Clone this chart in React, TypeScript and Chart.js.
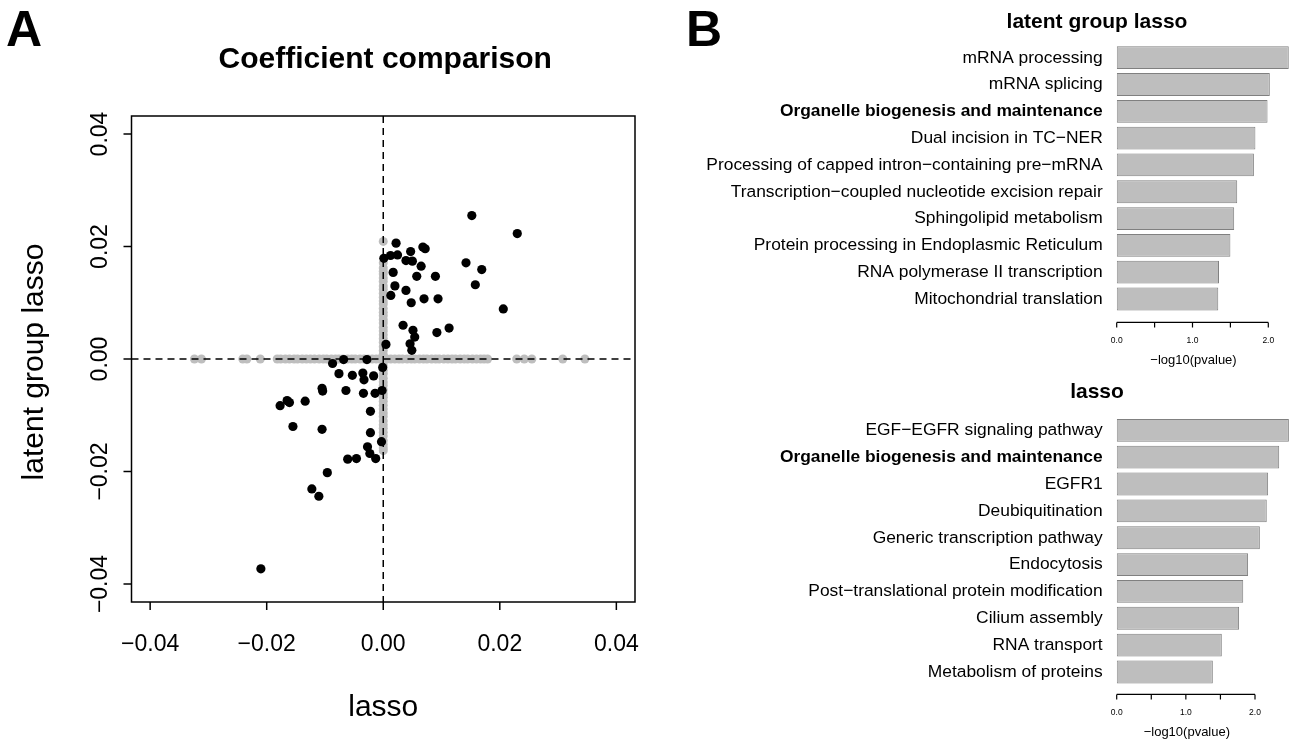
import React, { useEffect, useRef } from "react";
import { Chart, registerables } from "chart.js";
Chart.register(...registerables);

const FONT = '"Liberation Sans", Arial, Helvetica, sans-serif';

// Panel A: genes selected by both methods (lasso, latent group lasso)
const lassoCoef = [
  0.0152, 0.023, 0.0022, 0.0047, 0.0068, 0.0072, 0.0001, 0.00125, 0.00245, 0.0039,
  0.005, 0.0065, 0.0142, 0.0169, 0.0017, 0.00575, 0.00895, 0.0158, 0.002, 0.0039,
  0.0013, 0.0048, 0.007, 0.0094, 0.0206, 0.0034, 0.0051, 0.0113, 0.0092, 0.0054,
  0.0046, 0.0049, 0.00046, -0.0068, -0.0028, -0.0087, -0.0001, -0.0076, -0.0053, -0.0035,
  -0.0033, -0.00165, -0.0105, -0.0104, -0.0064, -0.0034, -0.0014, -0.0002, -0.0177, -0.0165,
  -0.0161, -0.0134, -0.0022, -0.0155, -0.0105, -0.0022, -0.0003, -0.0027, -0.0023, -0.0013,
  -0.0061, -0.0046, -0.0096, -0.01225, -0.01105, -0.021,
];
const latentCoef = [
  0.0255, 0.0223, 0.0206, 0.0191, 0.0199, 0.0196, 0.0179, 0.0184, 0.0185, 0.0175,
  0.0174, 0.0165, 0.0171, 0.0159, 0.0154, 0.0147, 0.0147, 0.0132, 0.013, 0.0122,
  0.0113, 0.01, 0.0107, 0.0107, 0.0089, 0.006, 0.0051, 0.0055, 0.0047, 0.0039,
  0.0027, 0.00155, 0.0026, -0.0001, -0.0001, -0.0008, -0.0015, -0.0026, -0.0029, -0.0025,
  -0.0037, -0.003, -0.0052, -0.0057, -0.0056, -0.0061, -0.0061, -0.0056, -0.0083, -0.0074,
  -0.00775, -0.0075, -0.0093, -0.012, -0.0125, -0.0131, -0.0147, -0.0156, -0.0168, -0.0177,
  -0.0178, -0.0177, -0.0202, -0.0231, -0.0244, -0.0373,
];
// genes selected by one method only (other coefficient is zero)
const lassoOnly = [
  -0.0324, -0.0312, -0.0241, -0.0234, -0.0211, -0.0182, -0.0176, -0.0168, -0.0161, -0.0153,
  -0.0147, -0.0139, -0.0132, -0.0125, -0.0118, -0.011, -0.0103, -0.0097, -0.0089, -0.0082,
  -0.0076, -0.0069, -0.0061, -0.0054, -0.0048, -0.004, -0.0033, -0.0026, -0.0019, -0.0012,
  -0.0006, 0.0006, 0.0013, 0.002, 0.0027, 0.0033, 0.0041, 0.0048, 0.0054, 0.0062,
  0.0069, 0.0075, 0.0083, 0.009, 0.0096, 0.0104, 0.0111, 0.0118, 0.0124, 0.0132,
  0.0139, 0.0145, 0.0153, 0.016, 0.0167, 0.0173, 0.0179, 0.0229, 0.0242, 0.0255,
  0.0308, 0.0346,
];
const latentOnly = [
  0.0209, 0.0171, 0.0162, 0.0156, 0.0151, 0.0144, 0.0138, 0.013, 0.0124, 0.0117,
  0.011, 0.0103, 0.0098, 0.009, 0.0083, 0.0077, 0.007, 0.0064, 0.0056, 0.005,
  0.0043, 0.0036, 0.003, 0.0022, 0.0015, 0.0008, -0.0005, -0.0012, -0.002, -0.0026,
  -0.0034, -0.0041, -0.0047, -0.0055, -0.0062, -0.0068, -0.0075, -0.0082, -0.0089, -0.0096,
  -0.0102, -0.011, -0.0117, -0.0123, -0.013, -0.0137, -0.0145, -0.0152, -0.0158, -0.0163,
];
const scatterTicks = [-0.04, -0.02, 0, 0.02, 0.04];
const scatterTickLabels = ["\u22120.04", "\u22120.02", "0.00", "0.02", "0.04"];

// Panel B
const topLabels = [
  "mRNA processing",
  "mRNA splicing",
  "Organelle biogenesis and maintenance",
  "Dual incision in TC\u2212NER",
  "Processing of capped intron\u2212containing pre\u2212mRNA",
  "Transcription\u2212coupled nucleotide excision repair",
  "Sphingolipid metabolism",
  "Protein processing in Endoplasmic Reticulum",
  "RNA polymerase II transcription",
  "Mitochondrial translation",
];
const topValues = [2.27, 2.02, 1.99, 1.83, 1.81, 1.59, 1.55, 1.5, 1.35, 1.34];
const bottomLabels = [
  "EGF\u2212EGFR signaling pathway",
  "Organelle biogenesis and maintenance",
  "EGFR1",
  "Deubiquitination",
  "Generic transcription pathway",
  "Endocytosis",
  "Post\u2212translational protein modification",
  "Cilium assembly",
  "RNA transport",
  "Metabolism of proteins",
];
const bottomValues = [2.49, 2.35, 2.19, 2.17, 2.07, 1.9, 1.83, 1.77, 1.52, 1.39];
const barTicks = [0, 0.5, 1, 1.5, 2];
const barTickLabels = ["0.0", "", "1.0", "", "2.0"];
const boldTerms = ["Organelle biogenesis and maintenance"];

const W = 1290;
const H = 742;

function scatterConfig(): any {
  const deco = {
    id: "scatterDeco",
    afterDatasetDraw(chart: any, args: any) {
      if (args.index !== 1) return;
      const { ctx, chartArea: a, scales } = chart;
      const x0 = scales.x.getPixelForValue(0);
      const y0 = scales.y.getPixelForValue(0);
      ctx.save();
      ctx.beginPath();
      ctx.rect(a.left, a.top, a.right - a.left, a.bottom - a.top);
      ctx.clip();
      ctx.setLineDash([7, 5]);
      ctx.lineWidth = 1.5;
      ctx.strokeStyle = "#000";
      ctx.beginPath();
      ctx.moveTo(x0, a.top);
      ctx.lineTo(x0, a.bottom);
      ctx.moveTo(a.left, y0);
      ctx.lineTo(a.right, y0);
      ctx.stroke();
      ctx.restore();
    },
    afterDraw(chart: any) {
      const { ctx, chartArea: a, scales } = chart;
      ctx.save();
      ctx.strokeStyle = "#000";
      ctx.fillStyle = "#000";
      ctx.lineWidth = 1.5;
      ctx.strokeRect(a.left, a.top, a.right - a.left, a.bottom - a.top);
      ctx.font = `23px ${FONT}`;
      ctx.textAlign = "center";
      ctx.textBaseline = "middle";
      scatterTicks.forEach((v, i) => {
        const px = scales.x.getPixelForValue(v);
        ctx.beginPath();
        ctx.moveTo(px, a.bottom);
        ctx.lineTo(px, a.bottom + 8);
        ctx.stroke();
        ctx.fillText(scatterTickLabels[i], px, a.bottom + 43);
        const py = scales.y.getPixelForValue(v);
        ctx.beginPath();
        ctx.moveTo(a.left, py);
        ctx.lineTo(a.left - 8, py);
        ctx.stroke();
        ctx.save();
        ctx.translate(a.left - 31, py);
        ctx.rotate(-Math.PI / 2);
        ctx.fillText(scatterTickLabels[i], 0, 0);
        ctx.restore();
      });
      const cx = (a.left + a.right) / 2;
      const cy = (a.top + a.bottom) / 2;
      ctx.font = `bold 30px ${FONT}`;
      ctx.fillText("Coefficient comparison", cx + 2, 60);
      ctx.font = `30px ${FONT}`;
      ctx.fillText("lasso", cx, 708);
      ctx.save();
      ctx.translate(35, cy + 3);
      ctx.rotate(-Math.PI / 2);
      ctx.fillText("latent group lasso", 0, 0);
      ctx.restore();
      ctx.font = `bold 50px ${FONT}`;
      ctx.textAlign = "left";
      ctx.textBaseline = "alphabetic";
      ctx.fillText("A", 6, 46);
      ctx.fillText("B", 686, 46);
      ctx.restore();
    },
  };
  return {
    type: "scatter",
    data: {
      datasets: [
        {
          label: "both",
          data: lassoCoef.map((x, i) => ({ x, y: latentCoef[i] })),
          backgroundColor: "#000",
          borderWidth: 0,
          pointRadius: 4.6,
          pointHoverRadius: 4.6,
        },
        {
          label: "single",
          data: [
            ...lassoOnly.map((x) => ({ x, y: 0 })),
            ...latentOnly.map((y) => ({ x: 0, y })),
          ],
          backgroundColor: "#bebebe",
          borderWidth: 0,
          pointRadius: 4.5,
          pointHoverRadius: 4.5,
        },
      ],
    },
    options: {
      responsive: false,
      animation: false,
      devicePixelRatio: 1,
      events: [],
      layout: { padding: { left: 131.5, right: W - 635, top: 116, bottom: H - 602 } },
      plugins: { legend: { display: false }, tooltip: { enabled: false } },
      scales: {
        x: { type: "linear", min: -0.0432, max: 0.0432, display: false },
        y: { type: "linear", min: -0.0432, max: 0.0432, display: false },
      },
    },
    plugins: [deco],
  };
}

function barConfig(
  labels: string[],
  values: number[],
  top: number,
  bottom: number,
  xmax: number,
  axisGap: number,
  title: string,
  titleBaseline: number
): any {
  const deco = {
    id: "barDeco",
    afterDraw(chart: any) {
      const { ctx, chartArea: a, scales } = chart;
      ctx.save();
      ctx.fillStyle = "#000";
      ctx.strokeStyle = "#000";
      ctx.textAlign = "right";
      ctx.textBaseline = "middle";
      labels.forEach((lab, i) => {
        const py = scales.y.getPixelForValue(i);
        ctx.font = `${boldTerms.includes(lab) ? "bold " : ""}17.4px ${FONT}`;
        ctx.fillText(lab, a.left - 14, py);
      });
      const ay = a.bottom + axisGap;
      const x0 = scales.x.getPixelForValue(barTicks[0]);
      const x1 = scales.x.getPixelForValue(barTicks[barTicks.length - 1]);
      ctx.lineWidth = 1.2;
      ctx.beginPath();
      ctx.moveTo(x0, ay);
      ctx.lineTo(x1, ay);
      barTicks.forEach((v) => {
        const px = scales.x.getPixelForValue(v);
        ctx.moveTo(px, ay);
        ctx.lineTo(px, ay + 5);
      });
      ctx.stroke();
      ctx.textAlign = "center";
      ctx.font = `8.5px ${FONT}`;
      barTicks.forEach((v, i) => {
        if (!barTickLabels[i]) return;
        ctx.fillText(barTickLabels[i], scales.x.getPixelForValue(v), ay + 18);
      });
      ctx.font = `13px ${FONT}`;
      ctx.fillText("\u2212log10(pvalue)", (x0 + x1) / 2 + 1, ay + 38);
      ctx.font = `bold 21px ${FONT}`;
      ctx.textBaseline = "alphabetic";
      ctx.fillText(title, 1097, titleBaseline);
      ctx.restore();
    },
  };
  return {
    type: "bar",
    data: {
      labels,
      datasets: [
        {
          data: values,
          backgroundColor: "#bebebe",
          borderColor: "#808080",
          borderWidth: 1,
          borderSkipped: false,
          barPercentage: 0.85,
          categoryPercentage: 1,
        },
      ],
    },
    options: {
      indexAxis: "y",
      responsive: false,
      animation: false,
      devicePixelRatio: 1,
      events: [],
      layout: { padding: { left: 1116.7, right: 0, top, bottom: H - bottom } },
      plugins: { legend: { display: false }, tooltip: { enabled: false } },
      scales: {
        x: { type: "linear", min: 0, max: xmax, display: false },
        y: { type: "category", display: false, offset: true },
      },
    },
    plugins: [deco],
  };
}

export default function App() {
  const aRef = useRef<HTMLCanvasElement>(null);
  const bRef = useRef<HTMLCanvasElement>(null);
  const cRef = useRef<HTMLCanvasElement>(null);
  useEffect(() => {
    document.body.style.margin = "0";
    const charts = [
      new Chart(aRef.current as any, scatterConfig()),
      new Chart(
        bRef.current as any,
        barConfig(topLabels, topValues, 44.3, 312.4, (W - 1116.7) / 75.8, 10, "latent group lasso", 28)
      ),
      new Chart(
        cRef.current as any,
        barConfig(bottomLabels, bottomValues, 416.9, 685.4, (W - 1116.7) / 69.15, 9, "lasso", 398)
      ),
    ];
    return () => charts.forEach((c) => c.destroy());
  }, []);
  const cs: React.CSSProperties = { position: "absolute", left: 0, top: 0, width: W, height: H };
  return (
    <div style={{ position: "fixed", left: 0, top: 0, width: W, height: H, background: "#fff" }}>
      <canvas ref={aRef} width={W} height={H} style={cs} />
      <canvas ref={bRef} width={W} height={H} style={cs} />
      <canvas ref={cRef} width={W} height={H} style={cs} />
    </div>
  );
}
